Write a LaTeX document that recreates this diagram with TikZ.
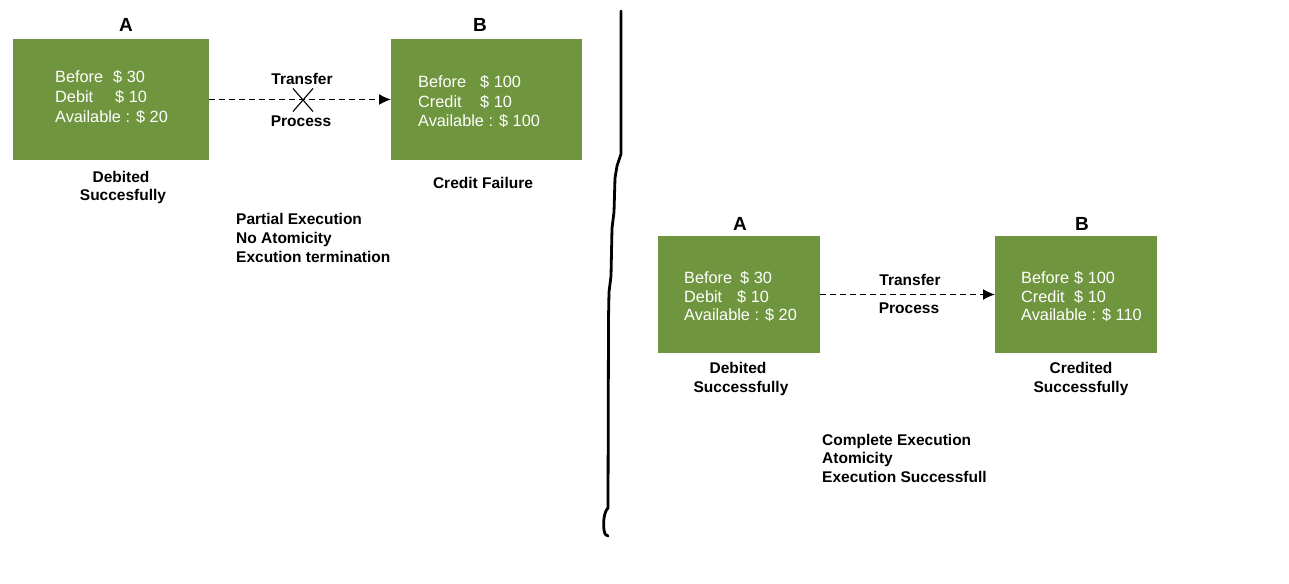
\documentclass[tikz,border=0pt]{standalone}
\usepackage{fontspec}
\setmainfont{Liberation Sans}
\usetikzlibrary{arrows.meta,shapes.misc}
\definecolor{boxgreen}{RGB}{111,150,62}
\begin{document}
\begin{tikzpicture}[x=1pt,y=-1pt,
 box/.style={fill=boxgreen, draw=none, outer sep=0pt, inner sep=0pt, anchor=north west},
 wtxt/.style={text=white, font=\fontsize{16.3}{19}\selectfont, anchor=base west, inner sep=0pt},
 lbl/.style={font=\bfseries\fontsize{15.5}{19}\selectfont, anchor=base, inner sep=0pt},
 lbll/.style={lbl, anchor=base west},
 ttl/.style={font=\bfseries\fontsize{19}{22}\selectfont, anchor=base, inner sep=0pt},
 flow/.style={dash pattern=on 6pt off 4pt, line width=1.5pt, -{Latex[length=12pt,width=11pt]}},
 xmark/.style={cross out, draw, line width=1.1pt, minimum width=19pt, minimum height=22pt, inner sep=0pt}]
\useasboundingbox (0,0) rectangle (1289,583);

% ---------- left half ----------
\node[box, minimum width=196pt, minimum height=121pt] (A1) at (13,39) {};
\node[box, minimum width=191pt, minimum height=121pt] (B1) at (391,39) {};
\node[ttl] (tA1) at (126,32) {A};
\node[ttl] (tB1) at (480,32) {B};

\node[wtxt] (a1l1) at (55,83) {\makebox[58pt][l]{Before}\$ 30};
\node[wtxt] (a1l2) at (55,102.5) {\makebox[60pt][l]{Debit}\$ 10};
\node[wtxt] (a1l3) at (55,122) {Available : \$ 20};

\node[wtxt] (b1l1) at (418,88) {\makebox[62pt][l]{Before}\$ 100};
\node[wtxt] (b1l2) at (418,107) {\makebox[62pt][l]{Credit}\$ 10};
\node[wtxt] (b1l3) at (418,126) {Available : \$ 100};

\draw[flow] (A1.east) -- (B1.west);
\node[xmark] (X1) at (303,100) {};
\node[lbl] (tr1) at (302,85) {Transfer};
\node[lbl] (pr1) at (301,127) {Process};

\node[lbl] (d1a) at (121,182) {Debited};
\node[lbl] (d1b) at (123,200.5) {Succesfully};
\node[lbl] (cf1) at (483,188) {Credit Failure};

\node[lbll] (p1) at (236,224) {Partial Execution};
\node[lbll] (p2) at (236,243) {No Atomicity};
\node[lbll] (p3) at (236,262) {Excution termination};

% ---------- divider ----------
\draw[line width=2.8pt, line cap=round, line join=round]
  (621,11) -- (621,154) -- (617,166) -- (615,178) -- (614,212) -- (612,228)
  -- (611,276) -- (609,292) -- (608.5,318) -- (608,508)
  .. controls (604,512) and (603,522) .. (604,530)
  .. controls (604.5,534) and (606,536) .. (608,536);

% ---------- right half ----------
\node[box, minimum width=162pt, minimum height=117pt] (A2) at (658,236) {};
\node[box, minimum width=162pt, minimum height=117pt] (B2) at (995,236) {};
\node[ttl] (tA2) at (740,230) {A};
\node[ttl] (tB2) at (1082,230) {B};

\node[wtxt] (a2l1) at (684,283) {\makebox[56pt][l]{Before}\$ 30};
\node[wtxt] (a2l2) at (684,302) {\makebox[53pt][l]{Debit}\$ 10};
\node[wtxt] (a2l3) at (684,320.5) {Available : \$ 20};

\node[wtxt] (b2l1) at (1021,283) {\makebox[53pt][l]{Before}\$ 100};
\node[wtxt] (b2l2) at (1021,302) {\makebox[53pt][l]{Credit}\$ 10};
\node[wtxt] (b2l3) at (1021,320.5) {Available : \$ 110};

\draw[flow] (A2.east) -- (B2.west);
\node[lbl] (tr2) at (910,285) {Transfer};
\node[lbl] (pr2) at (909,313) {Process};

\node[lbl] (d2a) at (738,373) {Debited};
\node[lbl] (d2b) at (741,392) {Successfully};
\node[lbl] (c2a) at (1081,373) {Credited};
\node[lbl] (c2b) at (1081,392) {Successfully};

\node[lbll] (q1) at (822,445) {Complete Execution};
\node[lbll] (q2) at (822,463.5) {Atomicity};
\node[lbll] (q3) at (822,482) {Execution Successfull};
\end{tikzpicture}
\end{document}
